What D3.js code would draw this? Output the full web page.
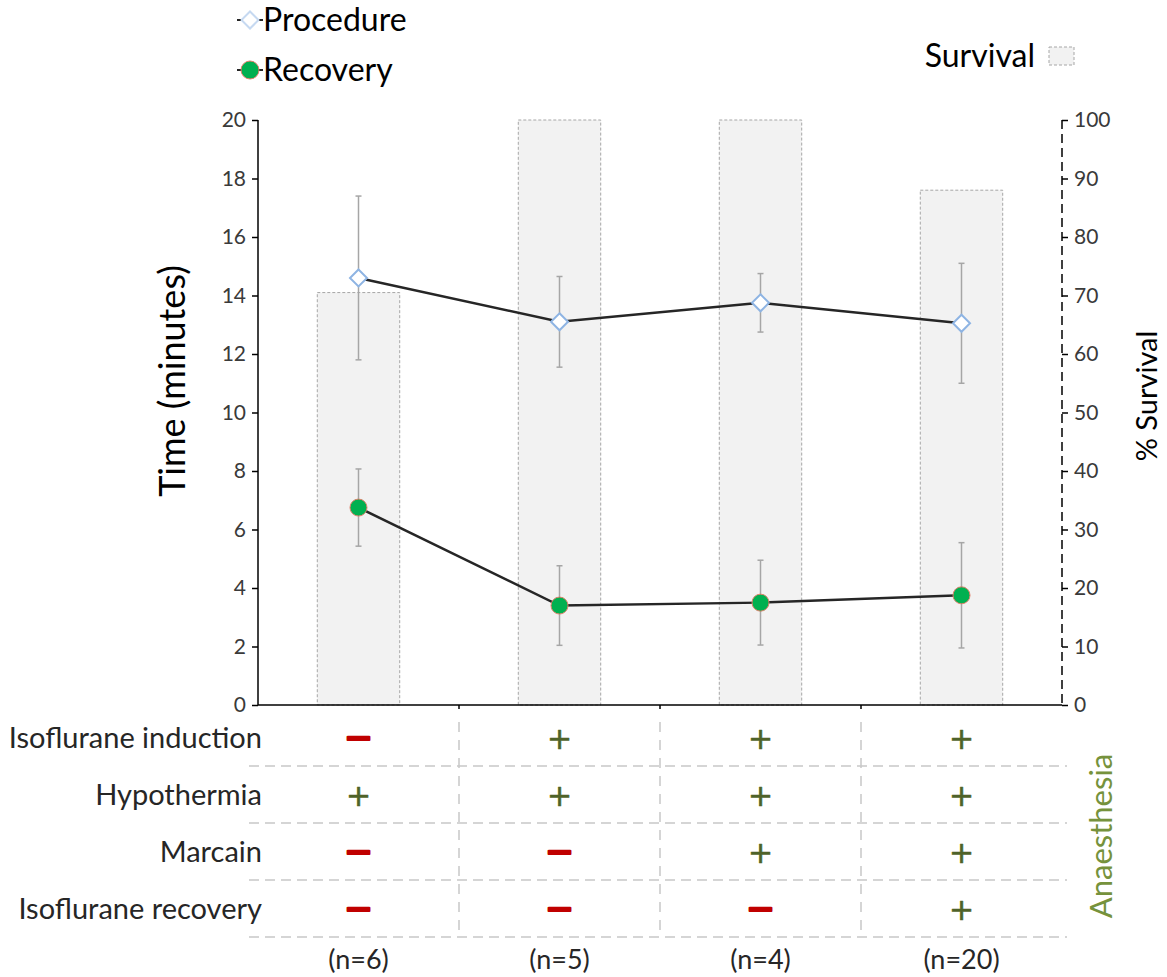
<!DOCTYPE html>
<html><head><meta charset="utf-8">
<script src="https://cdn.jsdelivr.net/npm/d3@7"></script>
<style>html,body{margin:0;padding:0;background:#fff}svg{display:block}</style>
</head><body>
<script>
const groups = ["(n=6)", "(n=5)", "(n=4)", "(n=20)"];
const procedureMean = [14.6, 13.1, 13.75, 13.05];
const procedureErr  = [2.8, 1.55, 1.0, 2.05];
const recoveryMean  = [6.75, 3.4, 3.5, 3.75];
const recoveryErr   = [1.32, 1.36, 1.45, 1.8];
const survival      = [70.5, 100, 100, 88];
const leftTicks  = [0, 2, 4, 6, 8, 10, 12, 14, 16, 18, 20];
const rightTicks = [0, 10, 20, 30, 40, 50, 60, 70, 80, 90, 100];
const rowLabels = ["Isoflurane induction", "Hypothermia", "Marcain", "Isoflurane recovery"];
const rowSigns = [
  ["-", "+", "+", "+"],
  ["+", "+", "+", "+"],
  ["-", "-", "+", "+"],
  ["-", "-", "-", "+"]
];

const W = 1167, H = 977;
const FONT = "Lato, 'Open Sans', sans-serif";
const svg = d3.select("body").append("svg").attr("width", W).attr("height", H)
  .style("font-family", FONT);

const x = d3.scaleBand().domain(groups).range([258, 1062]).padding(0);
const yL = d3.scaleLinear().domain([0, 20]).range([705, 120]);
const yR = d3.scaleLinear().domain([0, 100]).range([705, 120]);
const rowY = d3.scaleBand().domain(rowLabels).range([709, 937]);
const cx = g => x(g) + x.bandwidth() / 2;

// survival bars
const barW = x.bandwidth() * 0.41;
svg.append("g").selectAll("rect").data(groups).join("rect")
  .attr("x", d => cx(d) - barW / 2)
  .attr("y", (d, i) => yR(survival[i]))
  .attr("width", barW)
  .attr("height", (d, i) => yR(0) - yR(survival[i]))
  .attr("fill", "#F2F2F2").attr("stroke", "#A6A6A6")
  .attr("stroke-width", 1).attr("stroke-dasharray", "3,2");

// left axis
const gL = svg.append("g").attr("transform", "translate(258,0)")
  .call(d3.axisLeft(yL).tickValues(leftTicks).tickSize(6).tickPadding(6));
gL.select(".domain").attr("stroke", "#000").attr("stroke-width", 1.5).attr("d", "M0,120V705");
gL.selectAll(".tick line").attr("stroke", "#000").attr("stroke-width", 1.5);
gL.selectAll(".tick text").attr("font-size", 21).attr("fill", "#3A3A3A").attr("font-family", FONT);

// right axis
const gR = svg.append("g").attr("transform", "translate(1062,0)")
  .call(d3.axisRight(yR).tickValues(rightTicks).tickSize(6).tickPadding(6));
gR.select(".domain").attr("stroke", "#000").attr("stroke-width", 1.5)
  .attr("stroke-dasharray", "9,5").attr("d", "M0,120V705");
gR.selectAll(".tick line").attr("stroke", "#000").attr("stroke-width", 1.5);
gR.selectAll(".tick text").attr("font-size", 21).attr("fill", "#3A3A3A").attr("font-family", FONT);

// x axis line with boundary ticks
const gX = svg.append("g").attr("transform", "translate(0,705)")
  .call(d3.axisBottom(x).tickSize(0).tickFormat(""));
gX.select(".domain").attr("stroke", "#000").attr("stroke-width", 1.5).attr("d", "M258,0H1062");
gX.selectAll(".tick").remove();
svg.append("g").selectAll("line").data(groups.slice(1)).join("line")
  .attr("x1", d => x(d)).attr("x2", d => x(d)).attr("y1", 705).attr("y2", 709)
  .attr("stroke", "#000").attr("stroke-width", 1.5);

// table grid
svg.append("g").selectAll("line").data(rowLabels).join("line")
  .attr("x1", 249).attr("x2", 1067)
  .attr("y1", d => rowY(d) + rowY.bandwidth()).attr("y2", d => rowY(d) + rowY.bandwidth())
  .attr("stroke", "#C8C8C8").attr("stroke-width", 1.5).attr("stroke-dasharray", "10,6");
svg.append("g").selectAll("line").data(groups.slice(1)).join("line")
  .attr("x1", d => x(d)).attr("x2", d => x(d)).attr("y1", 722).attr("y2", 937)
  .attr("stroke", "#C8C8C8").attr("stroke-width", 1.5).attr("stroke-dasharray", "10,8");

// row labels
svg.append("g").selectAll("text").data(rowLabels).join("text")
  .attr("x", 262).attr("y", d => rowY(d) + rowY.bandwidth() / 2)
  .attr("dy", "0.35em").attr("text-anchor", "end")
  .attr("font-size", 29).attr("fill", "#262626").text(d => d);

// signs
const cells = [];
rowSigns.forEach((r, ri) => r.forEach((s, gi) => cells.push({ s, row: rowLabels[ri], g: groups[gi] })));
svg.append("g").selectAll("text").data(cells).join("text")
  .attr("x", d => cx(d.g))
  .attr("y", d => rowY(d.row) + rowY.bandwidth() / 2)
  .attr("text-anchor", "middle")
  .attr("font-family", "'DejaVu Sans', sans-serif")
  .attr("font-size", d => d.s === "+" ? 30 : 34)
  .attr("dy", d => d.s === "+" ? "0.37em" : "0.33em")
  .attr("fill", d => d.s === "+" ? "#4F6228" : "#C00000")
  .attr("stroke", d => d.s === "+" ? "#4F6228" : "#C00000")
  .attr("stroke-width", d => d.s === "+" ? 0.6 : 2.6)
  .attr("stroke-linejoin", "round")
  .text(d => d.s === "+" ? "+" : "\u2212");

// group labels
svg.append("g").selectAll("text").data(groups).join("text")
  .attr("x", d => cx(d)).attr("y", 960).attr("dy", "0.35em")
  .attr("text-anchor", "middle").attr("font-size", 27).attr("fill", "#262626").text(d => d);

// error bars
function errBars(mean, err) {
  const g = svg.append("g").attr("stroke", "#A6A6A6").attr("stroke-width", 1.5);
  groups.forEach((d, i) => {
    const X = cx(d), t = yL(mean[i] + err[i]), b = yL(mean[i] - err[i]);
    g.append("line").attr("x1", X).attr("x2", X).attr("y1", t).attr("y2", b);
    g.append("line").attr("x1", X - 3).attr("x2", X + 3).attr("y1", t).attr("y2", t);
    g.append("line").attr("x1", X - 3).attr("x2", X + 3).attr("y1", b).attr("y2", b);
  });
}
errBars(procedureMean, procedureErr);
errBars(recoveryMean, recoveryErr);

// lines
const line = d3.line().x(d => cx(d[0])).y(d => yL(d[1]));
svg.append("path").datum(groups.map((g, i) => [g, procedureMean[i]]))
  .attr("d", line).attr("fill", "none").attr("stroke", "#262626").attr("stroke-width", 2.5);
svg.append("path").datum(groups.map((g, i) => [g, recoveryMean[i]]))
  .attr("d", line).attr("fill", "none").attr("stroke", "#262626").attr("stroke-width", 2.5);

// markers
const diamond = (X, Y, r) => `M${X},${Y - r}L${X + r},${Y}L${X},${Y + r}L${X - r},${Y}Z`;
svg.append("g").selectAll("path").data(groups).join("path")
  .attr("d", (d, i) => diamond(cx(d), yL(procedureMean[i]), 8.5))
  .attr("fill", "#fff").attr("stroke", "#8EB4E3").attr("stroke-width", 2);
svg.append("g").selectAll("circle").data(groups).join("circle")
  .attr("cx", d => cx(d)).attr("cy", (d, i) => yL(recoveryMean[i])).attr("r", 8.5)
  .attr("fill", "#00B050").attr("stroke", "#E0806A").attr("stroke-width", 1);

// axis titles
svg.append("text").attr("transform", "translate(172,381) rotate(-90)")
  .attr("text-anchor", "middle").attr("dy", "0.35em")
  .attr("font-size", 36).attr("fill", "#000").text("Time (minutes)");
svg.append("text").attr("transform", "translate(1147,396) rotate(-90)")
  .attr("text-anchor", "middle").attr("dy", "0.35em")
  .attr("font-size", 29).attr("fill", "#000").text("% Survival");
svg.append("text").attr("transform", "translate(1101,836) rotate(-90)")
  .attr("text-anchor", "middle").attr("dy", "0.35em")
  .attr("font-size", 31).attr("fill", "#76923C").text("Anaesthesia");

// legend
const lg = svg.append("g");
[[20, "Procedure"], [70, "Recovery"]].forEach(([ly, name], i) => {
  lg.append("line").attr("x1", 237).attr("x2", 263).attr("y1", ly).attr("y2", ly)
    .attr("stroke", "#262626").attr("stroke-width", 2);
  if (i === 0) lg.append("path").attr("d", diamond(250, ly, 8.5))
    .attr("fill", "#fff").attr("stroke", "#C6D9F1").attr("stroke-width", 2);
  else lg.append("circle").attr("cx", 250).attr("cy", ly).attr("r", 9)
    .attr("fill", "#00B050").attr("stroke", "#E0806A").attr("stroke-width", 1);
  lg.append("text").attr("x", 263).attr("y", ly).attr("dy", "0.35em")
    .attr("font-size", 32).attr("fill", "#000").text(name);
});
lg.append("text").attr("x", 1035).attr("y", 56).attr("dy", "0.35em").attr("text-anchor", "end")
  .attr("font-size", 32).attr("fill", "#000").text("Survival");
lg.append("rect").attr("x", 1049).attr("y", 47).attr("width", 25).attr("height", 18)
  .attr("fill", "#F2F2F2").attr("stroke", "#A6A6A6").attr("stroke-width", 1).attr("stroke-dasharray", "3,2");
</script>
</body></html>
